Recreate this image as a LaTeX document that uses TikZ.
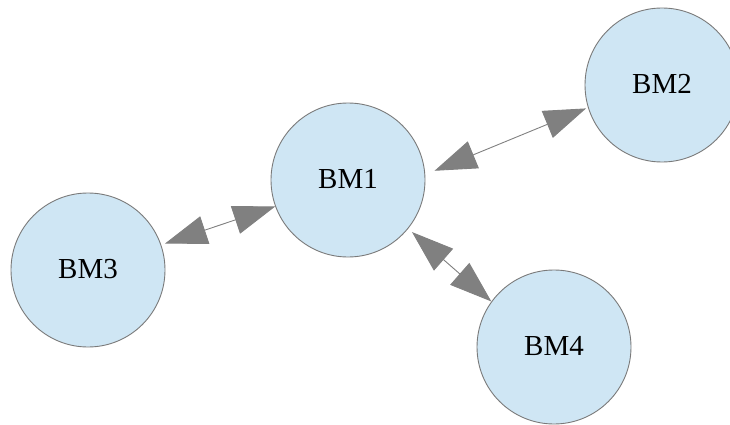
\documentclass[tikz,border=0pt]{standalone}
\usepackage{fontspec}
\setmainfont{Liberation Serif}
\usetikzlibrary{arrows.meta}
\definecolor{nodefill}{HTML}{CFE6F4}
\definecolor{nodeline}{HTML}{7A7A7A}
\definecolor{linkgray}{HTML}{808080}
\tikzset{
  bm/.style={circle, draw=nodeline, line width=0.9pt, fill=nodefill,
    minimum size=154pt, inner sep=0pt,
    font=\fontsize{29}{34}\selectfont},
  headtip/.tip={Triangle[length=42pt, width=29pt, fill=linkgray]},
  link/.style={draw=linkgray, line width=0.9pt, headtip-headtip}
}
\begin{document}
\begin{tikzpicture}[x=1pt, y=-1pt]
  \useasboundingbox (0,0) rectangle (730,425);
  \clip (0,0) rectangle (730,425);
  \node[bm] (bm1) at (348,180) {\raisebox{3pt}{BM1}};
  \node[bm] (bm2) at (662,85)  {\raisebox{3pt}{BM2}};
  \node[bm] (bm3) at (88,270)  {\raisebox{3pt}{BM3}};
  \node[bm] (bm4) at (554,347) {\raisebox{3pt}{BM4}};
  \draw[link, shorten <=10pt, shorten >=2pt] (bm1.4) -- (bm2.197);
  \draw[link, shorten <=4pt] (bm3.19) -- (bm1.200);
  \draw[link, shorten <=5pt] (bm1.321) -- (bm4.144);
\end{tikzpicture}
\end{document}
